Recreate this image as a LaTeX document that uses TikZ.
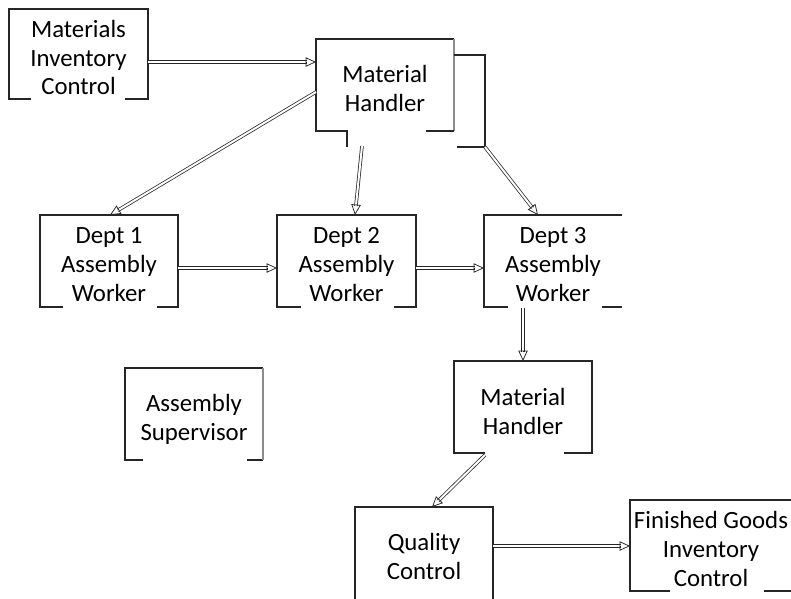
\documentclass[tikz,border=0pt]{standalone}
\usepackage{fontspec}
\setmainfont{Carlito}
\usetikzlibrary{arrows.meta,calc}

\tikzset{
  box/.style={minimum width=138pt, minimum height=92pt, inner sep=0pt, outer sep=0pt},
  lbl/.style={align=center, font=\fontsize{24.8}{28.8}\selectfont, text=black,
              inner sep=0pt, text depth=0pt},
  edge/.style={draw=black!85, line width=1.1pt},
  faint/.style={draw=black!45, line width=1.1pt},
  flow/.style={draw=black!85, double=white, double distance=2pt, line width=0.75pt,
               shorten >=9pt},
  flowhead/.style={draw=black!85, line width=0.75pt,
                   -{Triangle[open,length=10.5pt,width=9.5pt]}},
}

% box outline: left, top and right sides, bottom drawn as two end pieces
\newcommand\outline[3]{%
  \draw[edge] ($(#1.south west)+(#2,0)$) -- (#1.south west) -- (#1.north west)
    -- (#1.north east) -- (#1.south east) -- ++(-#3,0);}
% same, without the right side
\newcommand\openoutline[3]{%
  \draw[edge] ($(#1.south west)+(#2,0)$) -- (#1.south west) -- (#1.north west)
    -- (#1.north east);
  \draw[edge] (#1.south east) -- ++(-#3,0);}
% double-lined connector with an open triangular head
\newcommand\flowarrow[2]{%
  \draw[flow] (#1) -- (#2);
  \draw[flowhead] ($(#2)!10.5pt!(#1)$) -- (#2);}

\begin{document}
\begin{tikzpicture}[x=1pt, y=-1pt]
\useasboundingbox (0,0) rectangle (791,598);
\clip (0,0) rectangle (791,598);

% boxes
\node[box, minimum width=139pt, minimum height=90pt] (mic) at (78.5,54) {};
\node[box] (mh1) at (385,85) {};
\node[box] (d1)  at (109,261) {};
\node[box, minimum width=139pt] (d2) at (346.5,261) {};
\node[box] (d3)  at (553,261) {};
\node[box] (sup) at (194,414) {};
\node[box] (mh2) at (523,407) {};
\node[box] (qc)  at (424,553) {};
\node[box, minimum width=162pt, minimum height=91pt] (fg) at (711,545.5) {};

% labels
\node[lbl] (mic-t) at ($(mic.center)+(0,3.5)$) {Materials\\Inventory\\Control};
\node[lbl] (mh1-t) at ($(mh1.center)+(0,3.5)$) {Material\\Handler};
\node[lbl] (d1-t)  at ($(d1.center)+(0,3.5)$)  {Dept 1\\Assembly\\Worker};
\node[lbl] (d2-t)  at ($(d2.center)+(0,3.5)$)  {Dept 2\\Assembly\\Worker};
\node[lbl] (d3-t)  at ($(d3.center)+(0,3.5)$)  {Dept 3\\Assembly\\Worker};
\node[lbl] (sup-t) at ($(sup.center)+(0,3.5)$) {Assembly\\Supervisor};
\node[lbl] (mh2-t) at ($(mh2.center)+(0,4.5)$) {Material\\Handler};
\node[lbl] (qc-t)  at ($(qc.center)+(0,3.5)$)  {Quality\\Control};
\node[lbl] (fg-t)  at ($(fg.center)+(0,3.5)$)  {Finished Goods\\Inventory\\Control};

% outlines
\outline{mic}{22}{23}
\outline{d1}{23}{21}
\outline{d2}{24}{22}
\openoutline{d3}{24}{20}
\openoutline{sup}{18}{16}
\draw[faint] (sup.north east) -- (sup.south east);
\outline{mh2}{31}{28}
\outline{qc}{0}{0}
\outline{fg}{40}{28}
% first material handler: faint right side, tick below the left bottom piece
\draw[edge] ($(mh1.south west)+(31,16)$) -- ++(0,-16) -- (mh1.south west)
  -- (mh1.north west) -- (mh1.north east);
\draw[faint] (mh1.north east) -- (mh1.south east);
\draw[edge] (mh1.south east) -- ++(-28,0);

% connectors
\coordinate (a1s) at ($(mic.east)+(0,8)$);
\coordinate (a1e) at (mh1.west |- a1s);
\flowarrow{a1s}{a1e}

\coordinate (a2s) at ($(mh1.west)+(0,7)$);
\coordinate (a2e) at ($(d1.north)+(1,0)$);
\flowarrow{a2s}{a2e}

\coordinate (a3s) at ($(mh1.south)+(-23,15)$);
\coordinate (a3e) at ($(d2.north)+(8.5,0)$);
\flowarrow{a3s}{a3e}

\coordinate (b1) at ($(mh1.north east)+(0,16)$);
\coordinate (b2) at ($(b1)+(31,0)$);
\coordinate (b3) at ($(b2)+(0,92)$);
\coordinate (b4) at ($(mh1.east |- b3)+(3,0)$);
\draw[edge] (b1) -- (b2) -- (b3) -- (b4);
\coordinate (a4e) at ($(d3.north)+(-15,0)$);
\flowarrow{b3}{a4e}

\coordinate (a5s) at ($(d1.east)+(0,7)$);
\coordinate (a5e) at (d2.west |- a5s);
\flowarrow{a5s}{a5e}

\coordinate (a6s) at ($(d2.east)+(0,7)$);
\coordinate (a6e) at (d3.west |- a6s);
\flowarrow{a6s}{a6e}

\coordinate (a7s) at ($(d3.south)+(-30,1)$);
\flowarrow{a7s}{mh2.north}

\coordinate (a8s) at ($(mh2.south)+(-38,2)$);
\coordinate (a8e) at ($(qc.north)+(8,0)$);
\flowarrow{a8s}{a8e}

\coordinate (a9s) at ($(qc.east)+(0,-7)$);
\coordinate (a9e) at (fg.west |- a9s);
\flowarrow{a9s}{a9e}
\end{tikzpicture}
\end{document}
